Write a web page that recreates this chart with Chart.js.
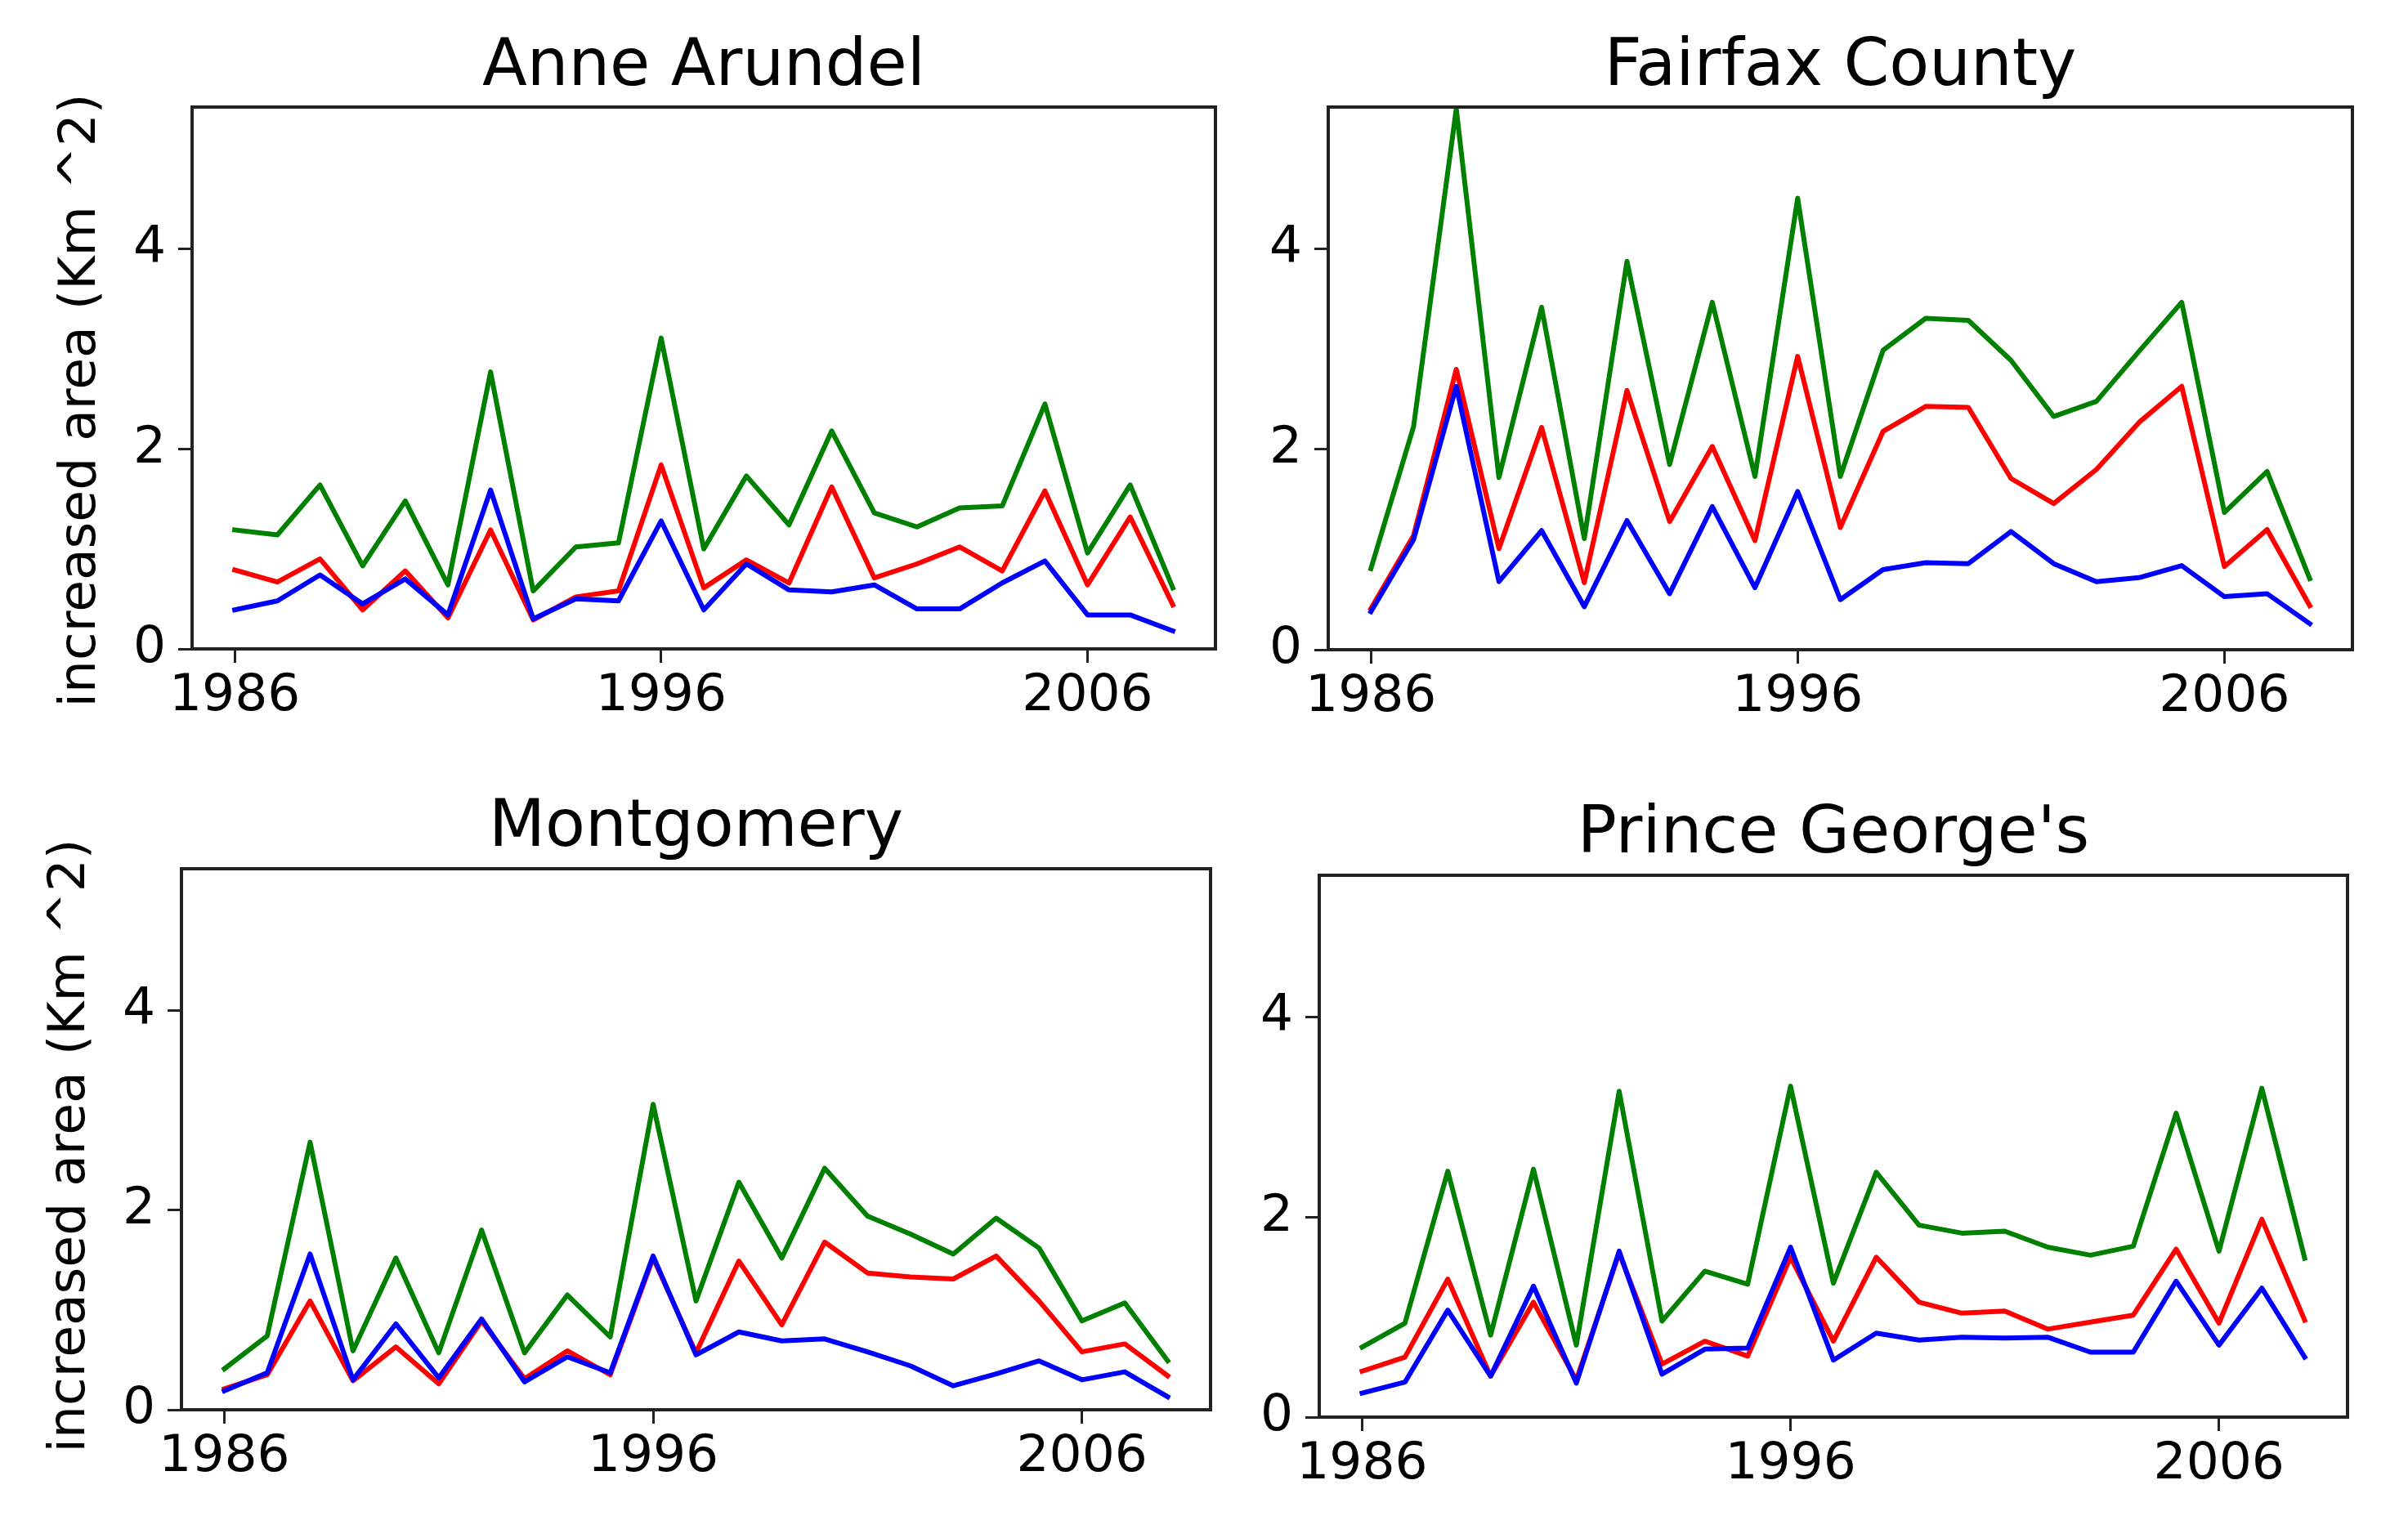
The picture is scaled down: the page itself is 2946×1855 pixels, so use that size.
<!DOCTYPE html>
<html>
<head>
<meta charset="utf-8">
<title>increased area</title>
<script src="https://cdn.jsdelivr.net/npm/chart.js@4.4.1/dist/chart.umd.min.js"></script>
<style>
  body { margin: 0; background: #fff; }
  #page { position: relative; width: 2946px; height: 1855px; }
  .panel { position: absolute; }
</style>
</head>
<body>
<div id="page">
  <div class="panel" style="left:0px;top:0px;width:1540px;height:900px;"><canvas id="anneChart" width="1540" height="900"></canvas></div>
  <div class="panel" style="left:1540px;top:0px;width:1406px;height:900px;"><canvas id="fairChart" width="1406" height="900"></canvas></div>
  <div class="panel" style="left:0px;top:900px;width:1540px;height:955px;"><canvas id="montChart" width="1540" height="955"></canvas></div>
  <div class="panel" style="left:1540px;top:900px;width:1406px;height:955px;"><canvas id="prinChart" width="1406" height="955"></canvas></div>
</div>
<script>
'use strict';

//*****DATA******/

let years = [1986, 1987, 1988, 1989, 1990, 1991, 1992, 1993, 1994, 1995, 1996, 1997,
  1998, 1999, 2000, 2001, 2002, 2003, 2004, 2005, 2006, 2007, 2008];

let xTicks = [1986, 1996, 2006];
let yTicks = [0, 2, 4];

let anneGreen = [1.19, 1.14, 1.64, 0.83, 1.48, 0.64, 2.77, 0.58, 1.02, 1.06, 3.11, 1.00, 1.73, 1.24, 2.18, 1.36, 1.22, 1.41, 1.43, 2.45, 0.96, 1.64, 0.61];
let anneRed = [0.79, 0.67, 0.90, 0.39, 0.78, 0.31, 1.19, 0.29, 0.52, 0.58, 1.84, 0.61, 0.89, 0.66, 1.62, 0.71, 0.85, 1.02, 0.78, 1.58, 0.64, 1.32, 0.44];
let anneBlue = [0.39, 0.48, 0.74, 0.45, 0.70, 0.34, 1.59, 0.30, 0.50, 0.48, 1.28, 0.39, 0.85, 0.59, 0.57, 0.64, 0.40, 0.40, 0.66, 0.88, 0.34, 0.34, 0.18];

let fairGreen = [0.81, 2.23, 5.40, 1.72, 3.42, 1.11, 3.88, 1.85, 3.47, 1.73, 4.51, 1.73, 2.99, 3.31, 3.29, 2.89, 2.33, 2.48, 2.98, 3.47, 1.37, 1.78, 0.71];
let fairRed = [0.41, 1.14, 2.80, 1.01, 2.22, 0.67, 2.59, 1.28, 2.03, 1.09, 2.93, 1.22, 2.18, 2.43, 2.42, 1.71, 1.46, 1.80, 2.27, 2.63, 0.83, 1.20, 0.44];
let fairBlue = [0.38, 1.10, 2.63, 0.68, 1.19, 0.43, 1.29, 0.56, 1.43, 0.62, 1.58, 0.50, 0.80, 0.87, 0.86, 1.18, 0.86, 0.68, 0.72, 0.84, 0.53, 0.56, 0.26];

let montGreen = [0.41, 0.74, 2.68, 0.59, 1.52, 0.57, 1.80, 0.57, 1.15, 0.73, 3.06, 1.09, 2.28, 1.52, 2.42, 1.94, 1.76, 1.56, 1.92, 1.62, 0.89, 1.07, 0.49];
let montRed = [0.21, 0.35, 1.09, 0.29, 0.63, 0.26, 0.89, 0.31, 0.59, 0.35, 1.52, 0.57, 1.49, 0.85, 1.68, 1.37, 1.33, 1.31, 1.54, 1.09, 0.58, 0.66, 0.34];
let montBlue = [0.19, 0.37, 1.56, 0.30, 0.86, 0.32, 0.91, 0.28, 0.53, 0.37, 1.54, 0.55, 0.78, 0.69, 0.71, 0.58, 0.44, 0.24, 0.36, 0.49, 0.30, 0.38, 0.13];

let prinGreen = [0.70, 0.94, 2.46, 0.82, 2.48, 0.72, 3.26, 0.96, 1.46, 1.33, 3.31, 1.34, 2.45, 1.92, 1.84, 1.86, 1.70, 1.62, 1.71, 3.04, 1.66, 3.29, 1.59];
let prinRed = [0.46, 0.60, 1.38, 0.41, 1.15, 0.37, 1.64, 0.53, 0.76, 0.61, 1.60, 0.76, 1.60, 1.15, 1.04, 1.06, 0.88, 0.95, 1.02, 1.68, 0.94, 1.98, 0.97];
let prinBlue = [0.24, 0.35, 1.07, 0.41, 1.31, 0.34, 1.66, 0.43, 0.68, 0.69, 1.70, 0.57, 0.84, 0.77, 0.80, 0.79, 0.80, 0.65, 0.65, 1.36, 0.72, 1.29, 0.60];

let yLabel = 'increased area (Km ^2)';

//*****DEFAULTS******/

Chart.defaults.font.family = '"DejaVu Sans", sans-serif';
Chart.defaults.color = '#000';
Chart.defaults.animation = false;

//*****PLUGINS******/

// full frame round the plot area, like matplotlib spines
let boxFrame = {
  id: 'boxFrame',
  afterDraw(chart) {
    let a = chart.chartArea;
    let ctx = chart.ctx;
    ctx.save();
    ctx.strokeStyle = '#222';
    ctx.lineWidth = 4;
    ctx.strokeRect(a.left, a.top, a.right - a.left, a.bottom - a.top);
    ctx.restore();
  }
};

// rotated y label, so it can sit a bit lower than the axis middle
let sideLabel = {
  id: 'sideLabel',
  afterDraw(chart, args, opts) {
    if (!opts.text) return;
    let ctx = chart.ctx;
    ctx.save();
    ctx.translate(opts.x, opts.y);
    ctx.rotate(-Math.PI / 2);
    ctx.font = '63px "DejaVu Sans", sans-serif';
    ctx.fillStyle = '#000';
    ctx.textAlign = 'center';
    ctx.textBaseline = 'middle';
    ctx.fillText(opts.text, 0, 0);
    ctx.restore();
  }
};

//*****HELPERS******/

function toPoints(values) {
  let pts = [];
  for (let i = 0; i < years.length; i++) {
    pts.push({ x: years[i], y: values[i] });
  }
  return pts;
}

function lineSet(values, color) {
  return {
    data: toPoints(values),
    borderColor: color,
    borderWidth: 6,
    pointRadius: 0,
    tension: 0,
    fill: false,
    borderJoinStyle: 'round',
    borderCapStyle: 'square'
  };
}

function renderPanel(canvasId, title, green, red, blue, lay) {
  let canvasElem = document.getElementById(canvasId);

  let chartObj = {
    type: 'line',
    data: {
      // first dataset is drawn on top, so blue goes first
      datasets: [lineSet(blue, '#0000ff'), lineSet(red, '#ff0000'), lineSet(green, '#008000')]
    },
    options: {
      responsive: false,
      devicePixelRatio: 1,
      layout: { padding: { left: lay.padLeft, right: lay.padRight, top: 0, bottom: 0 } },
      plugins: {
        legend: { display: false },
        tooltip: { enabled: false },
        title: {
          display: true,
          fullSize: false,
          text: title,
          color: '#000',
          font: { size: 80, weight: 'normal' },
          padding: { top: lay.titleTop, bottom: lay.titleBottom }
        },
        sideLabel: { text: lay.label, x: lay.labelX, y: lay.labelY }
      },
      scales: {
        x: {
          type: 'linear',
          min: 1985,
          max: 2009,
          afterBuildTicks: function (scale) {
            scale.ticks = xTicks.map(v => ({ value: v }));
          },
          afterFit: function (scale) {
            scale.height = lay.xHeight;
          },
          ticks: {
            autoSkip: false,
            maxRotation: 0,
            padding: 4,
            font: { size: 63 },
            callback: v => String(v)
          },
          grid: {
            display: true,
            drawOnChartArea: false,
            drawTicks: true,
            tickLength: 17,
            lineWidth: 3,
            color: '#222'
          },
          border: { display: false }
        },
        y: {
          min: 0,
          max: 5.42,
          afterBuildTicks: function (scale) {
            scale.ticks = yTicks.map(v => ({ value: v }));
          },
          afterFit: function (scale) {
            scale.width = lay.yWidth;
          },
          ticks: {
            padding: 15,
            font: { size: 63 },
            callback: v => String(v)
          },
          grid: {
            display: true,
            drawOnChartArea: false,
            drawTicks: true,
            tickLength: 17,
            lineWidth: 3,
            color: '#222'
          },
          border: { display: false }
        }
      }
    },
    plugins: [boxFrame, sideLabel]
  };

  return new Chart(canvasElem, chartObj);
}

//*****EXECUTABLE CODE******/

renderPanel('anneChart', 'Anne Arundel', anneGreen, anneRed, anneBlue,
  { padLeft: 0, padRight: 53, yWidth: 235, xHeight: 106, titleTop: 35, titleBottom: 0,
    label: yLabel, labelX: 100, labelY: 490 });

renderPanel('fairChart', 'Fairfax County', fairGreen, fairRed, fairBlue,
  { padLeft: 0, padRight: 68, yWidth: 85, xHeight: 105, titleTop: 35, titleBottom: 0, label: '' });

renderPanel('montChart', 'Montgomery', montGreen, montRed, montBlue,
  { padLeft: 0, padRight: 59, yWidth: 222, xHeight: 130, titleTop: 66, titleBottom: 1,
    label: yLabel, labelX: 87, labelY: 502 });

renderPanel('prinChart', "Prince George's", prinGreen, prinRed, prinBlue,
  { padLeft: 0, padRight: 74, yWidth: 74, xHeight: 121, titleTop: 74, titleBottom: 1, label: '' });
</script>
</body>
</html>
